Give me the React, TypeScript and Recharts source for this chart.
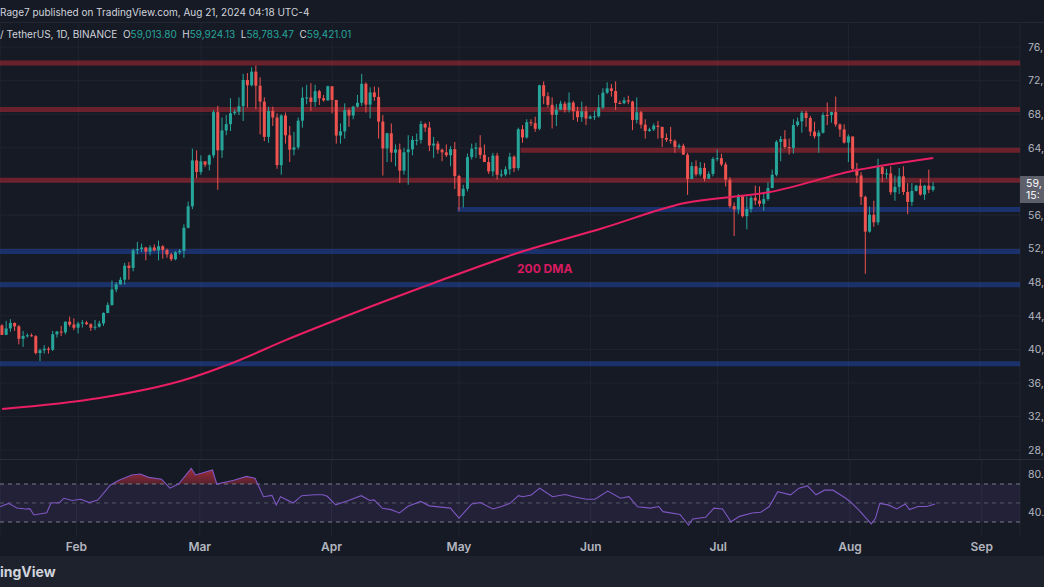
import React from 'react';
import { Area, Bar, CartesianGrid, ComposedChart, Line, ReferenceArea, ReferenceLine, XAxis, YAxis } from 'recharts';

const BG = '#161a25';
const UP = '#26a69a';
const DOWN = '#ef5350';
const MA_COLOR = '#e91e63';
const RSI_COLOR = '#7e57c2';
const TEXT = '#b2b5be';

// BTC/USDT daily, thousands of USDT, from 2024-01-14 to 2024-08-21
const firstOpen = 42.85;
const closes = [
  41.73, 42.5, 43.15, 42.74, 41.26, 41.6, 41.68, 41.58, 39.57, 39.9, 40.08, 39.96, 41.8, 42.12, 42.03, 43.3, 42.95, 42.58,
  43.08, 43.2, 43.0, 42.58, 42.7, 43.09, 44.34, 45.29, 47.13, 47.75, 48.29, 49.96, 49.7, 51.8, 51.94, 52.13, 51.64, 52.14, 51.78, 52.28, 51.84, 51.3, 50.73, 51.57, 51.73, 54.48, 57.04, 62.5, 61.13,
  62.39, 61.99, 63.1, 68.25, 63.7, 66.07, 66.82, 68.12, 68.3, 68.95, 72.08, 71.45, 73.07, 71.39, 69.5, 65.3, 68.39, 67.61, 61.94, 67.85, 65.49, 63.78, 64.06, 67.23, 69.96, 69.99, 69.46, 70.74, 69.9, 69.65, 71.33,
  69.7, 65.46, 65.96, 68.49, 67.84, 68.9, 69.36, 71.62, 69.14, 70.59, 70.06, 67.12, 63.92, 65.73, 63.42, 63.81, 61.28, 63.47, 63.82, 64.94, 64.94, 66.84, 66.41, 64.28, 64.5, 63.77, 63.46, 63.12, 63.84, 60.64,
  58.25, 59.12, 62.89, 63.89, 64.03, 63.16, 62.31, 61.19, 63.07, 60.79, 60.83, 61.45, 62.94, 61.58, 66.21, 65.23, 67.05, 66.94, 66.27, 71.45, 70.14, 69.12, 67.93, 68.53, 69.26, 68.51, 69.39, 68.37, 67.64, 68.35, 67.49,
  67.71, 67.75, 68.8, 70.57, 71.08, 70.76, 69.34, 69.31, 69.65, 69.51, 67.32, 68.24, 66.76, 66.01, 66.19, 66.64, 66.49, 65.17, 64.96, 64.83, 64.1, 64.25, 63.18, 60.28, 61.81, 60.84, 61.61, 60.32, 60.89, 62.68,
  62.77, 62.02, 60.2, 57.06, 56.66, 58.23, 55.86, 56.71, 58.05, 57.72, 57.34, 57.9, 59.21, 60.79, 64.72, 65.04, 64.09, 63.97, 66.71, 67.15, 68.17, 67.55, 65.93, 65.37, 65.8, 67.91, 67.9, 68.25, 66.78, 66.19, 64.62,
  65.36, 61.5, 60.7, 58.16, 54.02, 56.03, 55.13, 61.7, 60.88, 60.95, 58.71, 59.35, 60.6, 58.74, 57.56, 58.87, 59.49, 58.43, 59.49, 59.01, 59.42,
];
const highs = [
  43.0, 43.4, 43.6, 43.2, 42.9, 42.2, 41.9, 41.9, 41.7, 40.1, 40.5, 40.3, 42.2, 42.2, 42.8, 43.3, 43.9, 43.7,
  43.3, 43.5, 43.4, 43.1, 43.5, 43.4, 44.4, 45.6, 48.2, 48.0, 48.6, 50.3, 50.4, 52.0, 52.8, 52.6, 52.2, 52.4, 52.5, 52.95, 52.4, 52.0, 51.5, 51.7, 51.95, 54.9, 57.6, 63.9, 63.7,
  63.1, 62.4, 63.2, 68.5, 69.0, 67.6, 67.9, 69.9, 68.6, 70.0, 72.8, 72.9, 73.6, 73.8, 72.4, 70.0, 68.9, 68.9, 68.1, 68.0, 68.2, 66.6, 65.9, 67.6, 71.2, 71.5, 71.7, 71.5, 70.9, 70.3, 71.4,
  71.3, 69.7, 66.9, 69.3, 68.7, 69.0, 70.3, 72.8, 71.8, 71.2, 71.3, 71.2, 67.9, 65.8, 66.9, 64.4, 64.5, 64.0, 65.5, 65.4, 65.7, 67.2, 67.0, 67.1, 65.3, 64.8, 63.9, 64.4, 64.2, 64.7,
  60.8, 59.6, 63.3, 64.5, 64.6, 65.5, 64.4, 62.9, 63.4, 63.4, 61.4, 61.8, 63.4, 63.1, 66.4, 66.7, 67.4, 67.4, 67.7, 71.5, 71.9, 70.6, 70.0, 69.2, 69.6, 69.5, 70.6, 69.6, 68.9, 69.5, 69.0,
  67.9, 68.4, 70.3, 71.1, 71.8, 71.6, 71.9, 69.6, 70.0, 70.2, 69.6, 70.0, 68.4, 67.4, 66.4, 66.9, 67.2, 66.5, 65.7, 66.5, 65.0, 64.5, 64.5, 63.4, 62.3, 62.5, 62.3, 62.2, 61.2, 62.9,
  63.8, 63.3, 62.3, 60.5, 57.5, 58.5, 58.3, 58.2, 58.3, 59.5, 59.4, 58.5, 59.9, 61.4, 64.9, 65.4, 66.1, 65.1, 67.4, 67.6, 68.4, 68.4, 67.8, 67.1, 66.1, 68.2, 69.4, 68.3, 70.1, 66.9, 66.8,
  65.6, 65.0, 62.2, 61.1, 58.3, 57.0, 57.7, 62.7, 61.8, 61.5, 61.8, 60.7, 61.6, 61.8, 59.8, 59.8, 59.6, 60.3, 59.6, 61.4, 59.92,
];
const lows = [
  41.7, 41.7, 42.1, 42.2, 40.6, 40.3, 41.4, 41.5, 39.4, 38.6, 39.5, 39.5, 39.8, 41.4, 41.6, 41.8, 42.7, 42.3,
  41.9, 42.6, 42.9, 42.2, 42.3, 42.6, 42.8, 44.3, 45.2, 46.8, 47.7, 47.7, 48.3, 49.3, 51.3, 51.6, 50.6, 51.2, 51.7, 50.6, 50.8, 50.9, 50.5, 50.6, 51.3, 50.9, 54.4, 56.7, 60.4,
  60.8, 61.7, 61.3, 62.8, 59.0, 62.8, 65.5, 66.0, 67.9, 67.9, 67.2, 68.8, 71.3, 68.6, 65.6, 64.8, 64.6, 66.6, 61.5, 60.8, 64.5, 62.3, 63.1, 63.8, 66.4, 69.2, 68.4, 68.9, 69.1, 69.5, 69.6,
  68.1, 64.5, 64.5, 65.1, 66.5, 67.4, 68.8, 69.0, 68.2, 67.5, 69.6, 65.1, 60.7, 62.3, 62.3, 61.8, 59.8, 60.8, 59.6, 63.1, 64.3, 64.5, 65.9, 63.6, 62.8, 63.3, 62.4, 62.9, 61.8, 59.1,
  56.5, 56.9, 58.8, 62.6, 62.8, 62.7, 62.3, 60.9, 60.6, 60.2, 60.5, 60.6, 60.8, 61.1, 61.3, 64.6, 65.1, 66.6, 65.9, 66.1, 69.2, 68.8, 66.3, 66.6, 68.5, 68.2, 68.2, 67.3, 67.1, 67.1, 66.7,
  67.4, 67.3, 67.6, 68.6, 70.4, 70.1, 68.5, 69.2, 69.2, 69.2, 66.1, 66.9, 66.3, 65.1, 65.9, 66.0, 65.1, 64.1, 64.7, 64.5, 63.4, 63.9, 63.2, 58.4, 60.3, 60.6, 60.6, 60.0, 60.3, 60.6,
  62.4, 61.8, 59.4, 56.8, 53.5, 56.1, 55.7, 54.3, 56.3, 57.2, 57.0, 56.5, 57.7, 59.2, 60.6, 62.4, 63.9, 63.2, 63.3, 66.5, 65.8, 66.5, 65.4, 65.1, 63.4, 65.7, 66.7, 67.0, 66.5, 65.3, 64.5,
  62.3, 61.2, 59.8, 57.2, 49.0, 53.9, 54.6, 54.8, 59.9, 60.3, 58.4, 57.7, 58.5, 58.4, 56.1, 57.1, 58.8, 58.3, 57.8, 58.6, 58.78,
];

// 200 DMA (day index from 2024-01-14)
const maDays = [0, 23, 43, 55, 67, 83, 102, 122, 142, 161, 181, 202, 220];
const maValues = [32.9, 34.2, 36.35, 38.5, 41.1, 44.3, 47.9, 51.5, 54.45, 57.4, 58.7, 61.35, 62.8];

// RSI(14)
const rsiDays = [0, 2, 4, 6, 7, 8, 11, 12, 14, 15, 17, 19, 21, 23, 26, 28, 31, 33, 35, 38, 40, 42, 45, 46, 50, 51, 55, 58, 60, 62, 64, 65, 66, 69, 71, 74, 76, 77, 79, 82, 85, 87, 88, 90, 92, 94, 96, 99, 101, 106, 108, 111, 113, 116, 118, 120, 122, 123, 125, 127, 130, 133, 135, 138, 140, 143, 146, 148, 150, 153, 155, 156, 160, 162, 163, 166, 168, 170, 172, 174, 177, 179, 181, 183, 186, 188, 190, 192, 194, 196, 199, 200, 202, 205, 206, 207, 209, 211, 213, 214, 216, 218, 220];
const rsiValues = [46, 49.6, 44.7, 43.7, 44, 37.4, 39.8, 50, 50.4, 55, 52.7, 54, 50.4, 53, 69, 74, 79.5, 80.5, 77, 75, 65.6, 70, 86.5, 79.5, 84.7, 70, 74, 78, 76, 56.6, 58, 48, 56.6, 50, 57.7, 58.6, 58.6, 57, 48, 52.6, 57.7, 52.6, 53.3, 44.4, 43, 39.5, 46.5, 51.6, 47, 44.6, 34, 49, 50.4, 43.7, 46.3, 49.6, 57.7, 56.6, 58.4, 65.6, 56.6, 59, 56.6, 54, 54, 62.6, 55, 56.6, 46, 44.6, 46.3, 40.9, 38, 26.8, 33.2, 34.9, 44.6, 43.7, 30.3, 35.9, 39.5, 40.2, 46.3, 61.9, 58.6, 65.6, 68, 58.6, 63.5, 63.5, 55, 51.6, 43, 28, 33.9, 49.6, 48, 43.7, 49, 43, 46.3, 46.3, 49];

const redLevels = [74.1, 68.55, 60.15];
const redPartial = { value: 63.7, from: '2024-05-16' };
const blueLevels = [51.65, 47.7, 38.3];
const bluePartial = { value: 56.65, from: '2024-05-01' };

const priceTicks = [28, 32, 36, 40, 44, 48, 52, 56, 60, 64, 68, 72, 76];
const monthTicks = ['2024-02-01', '2024-03-01', '2024-04-01', '2024-05-01', '2024-06-01', '2024-07-01', '2024-08-01', '2024-09-01'];
const monthNames = ['Jan', 'Feb', 'Mar', 'Apr', 'May', 'Jun', 'Jul', 'Aug', 'Sep'];
const TOTAL_DAYS = 241;

const rows = Array.from({ length: TOTAL_DAYS }, (_, i) => {
  const d = new Date(Date.UTC(2024, 0, 14 + i)).toISOString().slice(0, 10);
  const row: any = { d };
  if (i < closes.length) {
    row.open = i === 0 ? firstOpen : closes[i - 1];
    row.close = closes[i];
    row.high = highs[i];
    row.low = lows[i];
    row.range = [lows[i], highs[i]];
  }
  return row;
});
maDays.forEach((day, k) => { rows[day].ma = maValues[k]; });
rsiDays.forEach((day, k) => { rows[day].rsi = rsiValues[k]; });

const Candle = (props: any) => {
  const { x, width, payload } = props;
  let { y, height } = props;
  if (!payload || payload.high == null) return null;
  if (height < 0) { y += height; height = -height; }
  const { open, close, high, low } = payload;
  const k = height / (high - low || 1);
  const cx = x + width / 2;
  const yo = y + (high - open) * k;
  const yc = y + (high - close) * k;
  const color = close >= open ? UP : DOWN;
  return (
    <g>
      <line x1={cx} x2={cx} y1={y} y2={y + height} stroke={color} strokeWidth={1} />
      <rect x={cx - 1.5} y={Math.min(yo, yc)} width={3} height={Math.max(1, Math.abs(yc - yo))} fill={color} />
    </g>
  );
};

const monthLabel = (d: string) => monthNames[Number(d.slice(5, 7)) - 1];

// the axis labels are cut by the frame edge in the source, keep what shows
export default function App() {
  return (
    <div style={{ position: 'absolute', left: 0, top: 0, width: 1044, height: 587, background: BG, overflow: 'hidden', fontFamily: '"Inter", "Roboto", sans-serif', color: '#d1d4dc' }}>
      <div style={{ position: 'absolute', left: 0, top: 0, width: 1044, height: 22, borderBottom: '1px solid #252935', fontSize: 10, lineHeight: '25px' }}>
        Rage7 published on TradingView.com, Aug 21, 2024 04:18 UTC-4
      </div>
      <div style={{ position: 'absolute', left: 0, top: 27, fontSize: 10, lineHeight: '14px', whiteSpace: 'pre', zIndex: 2 }}>
        / TetherUS, 1D, BINANCE  O<span style={{ color: UP }}>59,013.80</span>  H<span style={{ color: UP }}>59,924.13</span>  L<span style={{ color: UP }}>58,783.47</span>  C<span style={{ color: UP }}>59,421.01</span>
      </div>

      <div style={{ position: 'absolute', left: 0, top: 22 }}>
        <ComposedChart width={1044} height={438} data={rows} margin={{ top: 0, right: 0, bottom: 0, left: 0 }}>
          <CartesianGrid stroke="#20242f" strokeWidth={1} />
          <XAxis dataKey="d" hide ticks={monthTicks} interval={0} />
          <YAxis orientation="right" width={24} domain={[26.83, 78.98]} allowDataOverflow ticks={priceTicks} axisLine={false} tickLine={false} tick={{ fill: TEXT, fontSize: 10.5 }} tickFormatter={(v: number) => `${v},`} />
          {redLevels.map((v) => (
            <ReferenceArea key={'r' + v} y1={v - 0.3} y2={v + 0.3} fill="#b22833" fillOpacity={0.55} stroke="none" />
          ))}
          <ReferenceArea x1={redPartial.from} y1={redPartial.value - 0.3} y2={redPartial.value + 0.3} fill="#b22833" fillOpacity={0.55} stroke="none" />
          {blueLevels.map((v) => (
            <ReferenceArea key={'b' + v} y1={v - 0.3} y2={v + 0.3} fill="#2962ff" fillOpacity={0.32} stroke="none" />
          ))}
          <ReferenceArea x1={bluePartial.from} y1={bluePartial.value - 0.3} y2={bluePartial.value + 0.3} fill="#2962ff" fillOpacity={0.32} stroke="none" />
          <Line dataKey="ma" type="monotone" stroke={MA_COLOR} strokeWidth={2} dot={false} connectNulls isAnimationActive={false} />
          <Bar dataKey="range" shape={<Candle />} isAnimationActive={false} />
        </ComposedChart>
      </div>

      <div style={{ position: 'absolute', left: 0, top: 459, width: 1044, height: 1, background: '#2a2e39' }} />

      <div style={{ position: 'absolute', left: 0, top: 460 }}>
        <ComposedChart width={1044} height={96} data={rows} margin={{ top: 0, right: 0, bottom: 0, left: 0 }}>
          <defs>
            <linearGradient id="obFill" gradientUnits="userSpaceOnUse" x1="0" y1="0" x2="0" y2="24">
              <stop offset="0" stopColor="#f23645" stopOpacity={0.8} />
              <stop offset="0.98" stopColor="#f23645" stopOpacity={0.3} />
              <stop offset="1" stopColor="#f23645" stopOpacity={0} />
            </linearGradient>
          </defs>
          <CartesianGrid stroke="#20242f" horizontal={false} />
          <XAxis dataKey="d" ticks={monthTicks} interval={0} axisLine={false} tickLine={false} tickSize={0} tickMargin={7} height={21} tick={{ fill: TEXT, fontSize: 12, fontWeight: 600 }} tickFormatter={monthLabel} />
          <YAxis orientation="right" width={24} domain={[16.3, 95.26]} allowDataOverflow ticks={[80, 40]} axisLine={false} tickLine={false} tick={{ fill: TEXT, fontSize: 10.5 }} tickFormatter={(v: number) => `${v}.`} />
          <ReferenceArea y1={30} y2={70} fill={RSI_COLOR} fillOpacity={0.12} stroke="none" />
          <ReferenceLine y={70} stroke="#787b86" strokeDasharray="4 4" />
          <ReferenceLine y={50} stroke="#787b86" strokeDasharray="4 4" strokeOpacity={0.6} />
          <ReferenceLine y={30} stroke="#787b86" strokeDasharray="4 4" />
          <Area dataKey="rsi" baseValue={70} type="linear" stroke="none" fill="url(#obFill)" fillOpacity={1} connectNulls isAnimationActive={false} />
          <Line dataKey="rsi" type="linear" stroke={RSI_COLOR} strokeWidth={1.1} dot={false} connectNulls isAnimationActive={false} />
        </ComposedChart>
      </div>

      <div style={{ position: 'absolute', left: 517, top: 261, color: '#d81b60', fontSize: 12, fontWeight: 700 }}>200 DMA</div>

      <div style={{ position: 'absolute', left: 1020, top: 176, width: 24, height: 27, background: '#5d606b', color: '#ffffff', fontSize: 10.5, lineHeight: '12px', paddingTop: 2, paddingLeft: 6, boxSizing: 'border-box' }}>
        59,<br />15:
      </div>

      <div style={{ position: 'absolute', left: 0, top: 556, width: 1044, height: 31, background: '#1e222d' }}>
        <div style={{ position: 'absolute', left: 0, top: 7, fontSize: 14, fontWeight: 700, color: '#d1d4dc' }}>ingView</div>
      </div>
    </div>
  );
}
